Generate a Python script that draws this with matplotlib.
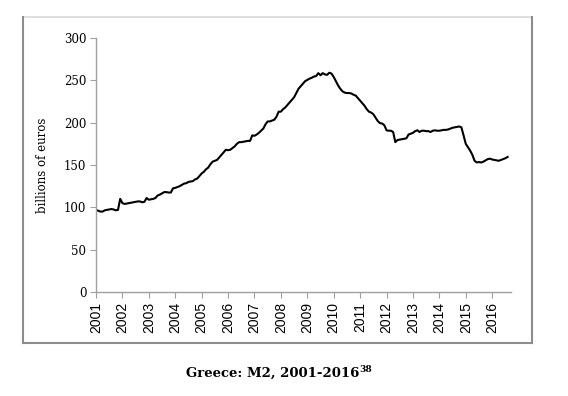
import numpy as np
import matplotlib
matplotlib.use('Agg')
from matplotlib import pyplot as plt
from matplotlib.lines import Line2D

# Greece M2, monthly, billions of euros
m2_2001 = [97, 96, 95, 95, 96.5, 97, 97.5, 98, 97.5, 96.5, 97, 110]
m2_2002 = [105, 104, 104.5, 105, 105.5, 106, 106.5, 107, 107, 106, 106.5, 111]
m2_2003 = [109, 109.5, 110, 111, 114, 115, 116.5, 118, 118, 117.5, 117.5, 122.5]
m2_2004 = [123, 124, 125, 126.5, 128, 128.5, 130, 130.5, 131, 133, 134, 137]
m2_2005 = [140, 142, 145, 147, 151, 154, 155, 156, 159, 162, 165, 168]
m2_2006 = [167.5, 168, 170, 172, 175, 177, 177, 177.5, 178, 178.5, 178.5, 185]
m2_2007 = [184.5, 186, 188, 190.5, 193, 198, 201.5, 201.5, 202.5, 203.5, 207, 213]
m2_2008 = [213, 216, 218, 221, 224, 227, 230, 235, 240, 243, 246, 249]
m2_2009 = [250.5, 252, 253, 254.5, 255, 258.5, 256, 258.5, 257, 256.5, 259, 258]
m2_2010 = [254, 249, 244, 240, 237, 235.5, 235, 235, 234.5, 233, 232, 229]
m2_2011 = [226, 223, 220, 216, 213, 212, 210, 206, 202, 199.5, 199, 197]
m2_2012 = [191, 190.5, 190.5, 189, 177, 179.5, 180, 180.5, 181, 181.5, 186, 187]
m2_2013 = [188, 190, 191, 189, 190.5, 190.5, 190, 190, 189, 190.5, 191, 190.5]
m2_2014 = [190.5, 191, 191.5, 191.5, 192, 193, 194, 194.5, 195, 195.5, 194.5, 185]
m2_2015 = [175, 171, 167, 162, 155, 153, 153.5, 153, 154, 155.5, 157, 157.5]
m2_2016 = [156.5, 156, 155.5, 155, 156, 157, 158, 159.5]

m2 = (m2_2001 + m2_2002 + m2_2003 + m2_2004 + m2_2005 + m2_2006 + m2_2007 + m2_2008
      + m2_2009 + m2_2010 + m2_2011 + m2_2012 + m2_2013 + m2_2014 + m2_2015 + m2_2016)
t = 2001 + np.arange(len(m2)) / 12.0
years = list(range(2001, 2017))

fig = plt.figure(figsize=(5.68, 3.96), dpi=100)

# outer frame around the chart
fl, fr, fb, ft = 0.0405, 0.9366, 0.1338, 0.957
fig.add_artist(Line2D([fl, fr], [ft, ft], color='#d9d9d9', lw=1.2))
fig.add_artist(Line2D([fl, fl], [fb, ft], color='#8c8c8c', lw=1.5))
fig.add_artist(Line2D([fr, fr], [fb, ft], color='#8c8c8c', lw=1.5))
fig.add_artist(Line2D([fl, fr], [fb, fb], color='#8c8c8c', lw=1.5))

ax = fig.add_axes([0.169, 0.2626, 0.731, 0.6414])
ax.plot(t, m2, color='black', lw=1.5)

ax.set_xlim(2001, 2016.72)
ax.set_ylim(0, 300)
ax.set_yticks(range(0, 301, 50))
ax.set_xticks(years)
ax.set_xticklabels([str(y) for y in years], rotation=90, family='Liberation Sans', fontsize=10)
for lab in ax.get_yticklabels():
    lab.set_family('DejaVu Serif')
    lab.set_fontsize(8.5)

for s in ['top', 'right']:
    ax.spines[s].set_visible(False)
for s in ['left', 'bottom']:
    ax.spines[s].set_color('#a0a0a0')
    ax.spines[s].set_linewidth(1.0)
ax.tick_params(axis='both', direction='out', length=4, color='#a0a0a0', pad=3)

fig.text(0.075, 0.583, 'billions of euros', rotation=90, family='DejaVu Serif',
         fontsize=8.5, ha='center', va='center')

# caption with superscript note number
cap = fig.text(0.328, 0.058, 'Greece: M2, 2001-2016', family='DejaVu Serif', fontweight='bold',
               fontsize=9.5, ha='left', va='center')
fig.canvas.draw()
bb = cap.get_window_extent().transformed(fig.transFigure.inverted())
fig.text(bb.x1 - 0.001, 0.066, '38', family='DejaVu Serif', fontweight='bold',
         fontsize=6.5, ha='left', va='center')

fig.savefig('out.png', dpi=100)
